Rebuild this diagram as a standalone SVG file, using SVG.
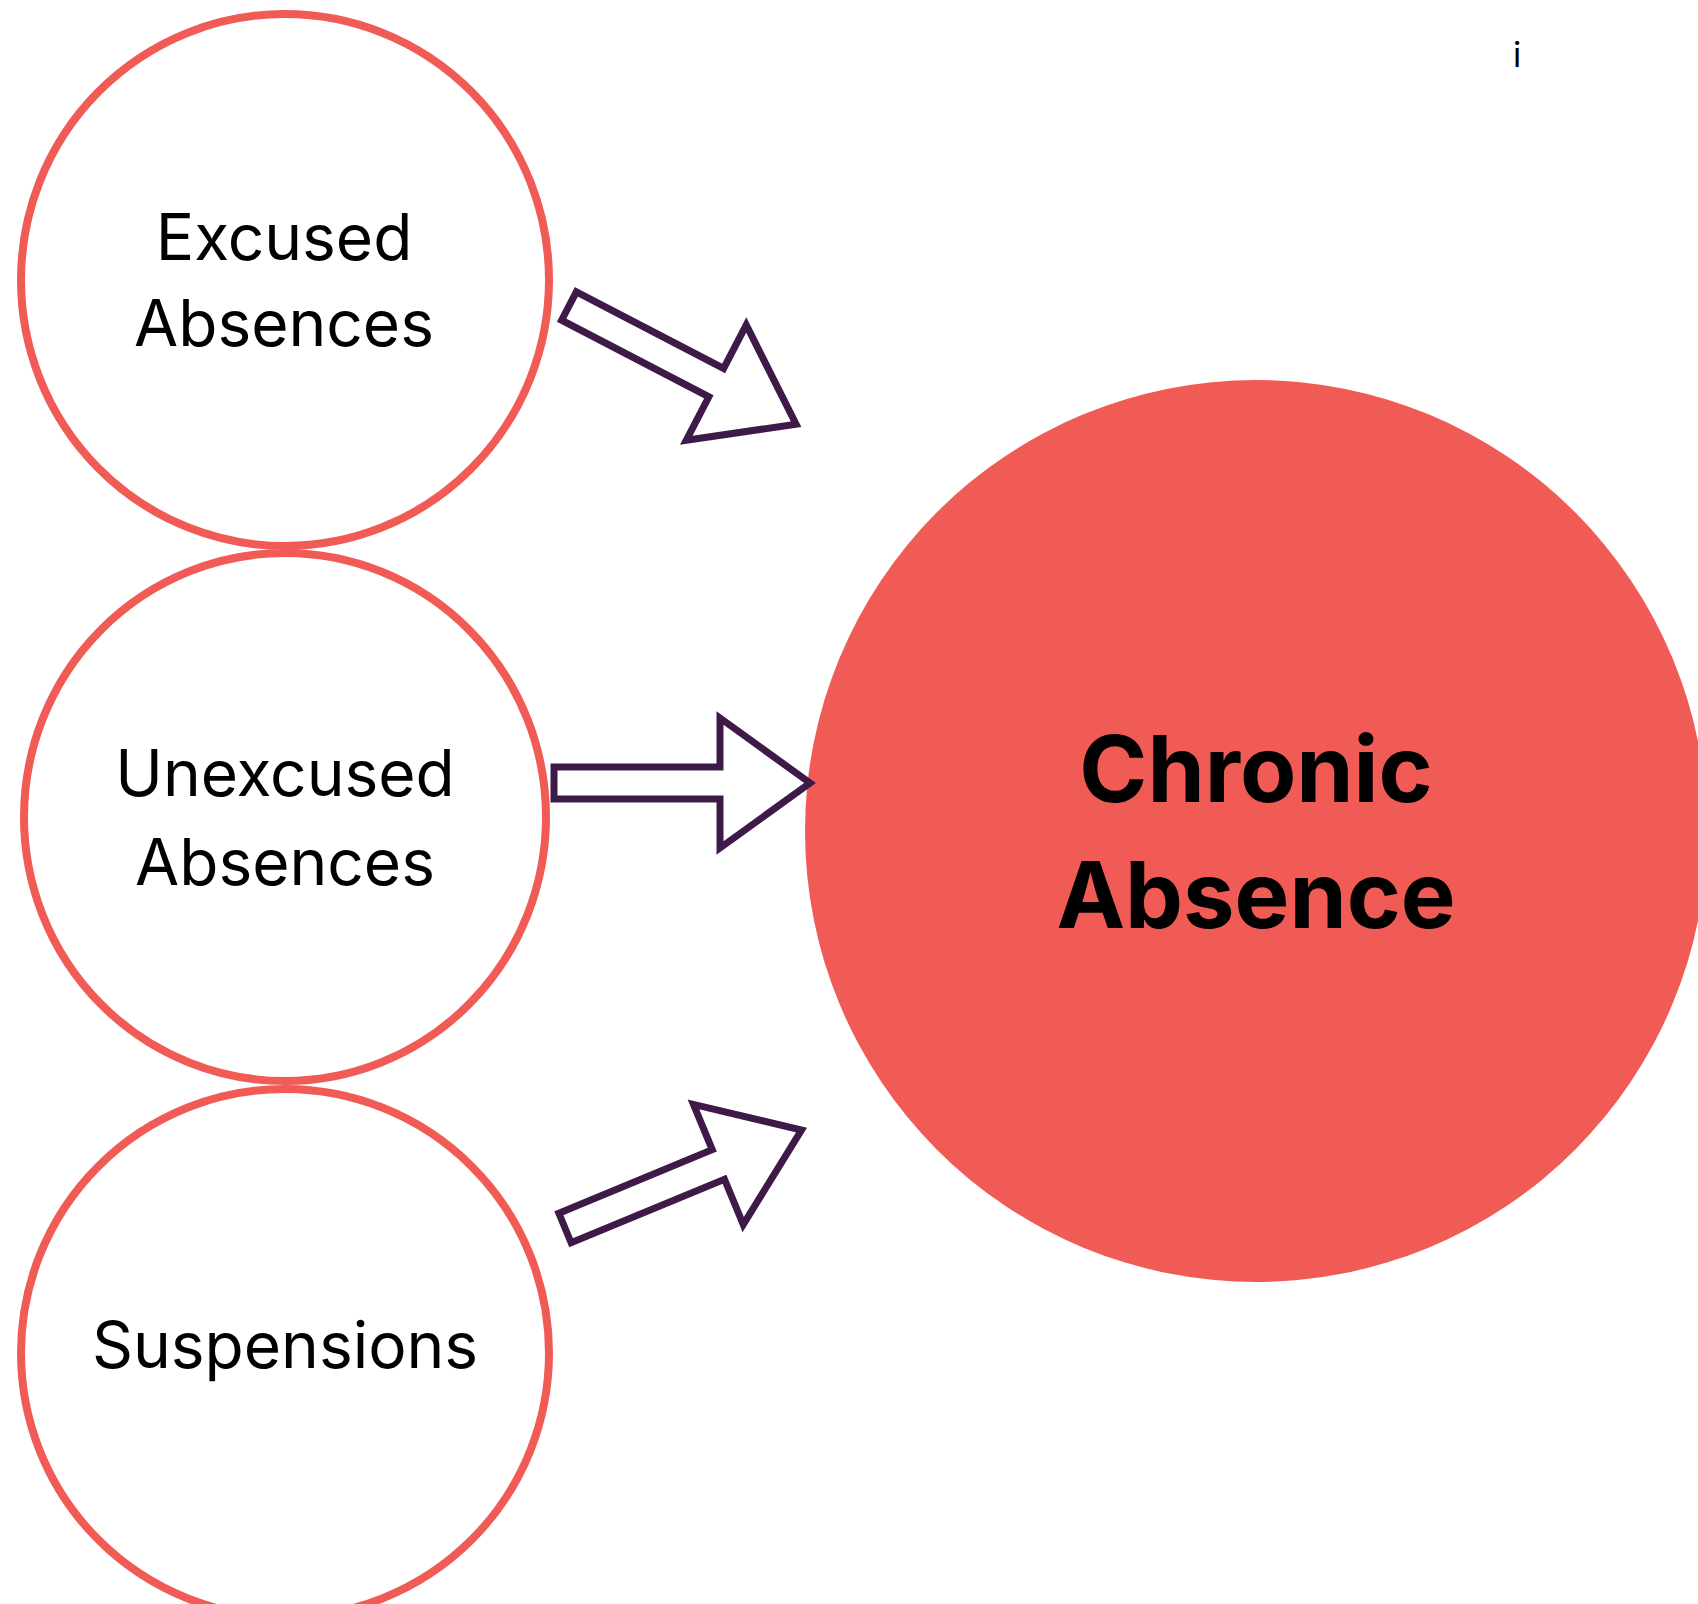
<svg xmlns="http://www.w3.org/2000/svg" width="1698" height="1604" viewBox="0 0 1698 1604">
<style>
.src{fill:#FFFFFF;stroke:#F15B55;stroke-width:8}
.lbl{font-family:Inter,"Liberation Sans",sans-serif;font-size:64px;fill:#000000;text-anchor:middle}
.big{font-family:Inter,"Liberation Sans",sans-serif;font-size:92px;font-weight:700;fill:#000000;text-anchor:middle}
.arr{fill:#FFFFFF;stroke:#3D1A47;stroke-width:7;stroke-linejoin:miter;stroke-miterlimit:10}
</style>
<defs>
<polygon id="arrowShape" points="0,-16 166,-16 166,-65 256,0 166,65 166,16 0,16"/>
</defs>
<rect width="1698" height="1604" fill="#FFFFFF"/>
<g id="node-excused">
<ellipse class="src" cx="285" cy="280" rx="264" ry="266"/>
<text class="lbl" x="284" y="260">Excused</text>
<text class="lbl" x="284" y="346">Absences</text>
</g>
<g id="node-unexcused">
<ellipse class="src" cx="285" cy="817" rx="261" ry="264"/>
<text class="lbl" x="285" y="796">Unexcused</text>
<text class="lbl" x="285" y="885">Absences</text>
</g>
<g id="node-suspensions">
<circle class="src" cx="285" cy="1353" r="264"/>
<text class="lbl" x="285" y="1368">Suspensions</text>
</g>
<g id="node-chronic">
<circle cx="1256" cy="831" r="451" fill="#F15B55"/>
<text class="big" x="1256" y="802">Chronic</text>
<text class="big" x="1256" y="928">Absence</text>
</g>
<g id="node-i">
<text x="1517" y="67" font-family="Inter,'Liberation Sans',sans-serif" font-size="34" fill="#000000" text-anchor="middle">i</text>
</g>
<g id="connectors">
<use href="#arrowShape" class="arr" transform="translate(569,306) rotate(27.5)"/>
<use href="#arrowShape" class="arr" transform="translate(554,783)"/>
<use href="#arrowShape" class="arr" transform="translate(565,1228) rotate(-22.5)"/>
</g>
</svg>
